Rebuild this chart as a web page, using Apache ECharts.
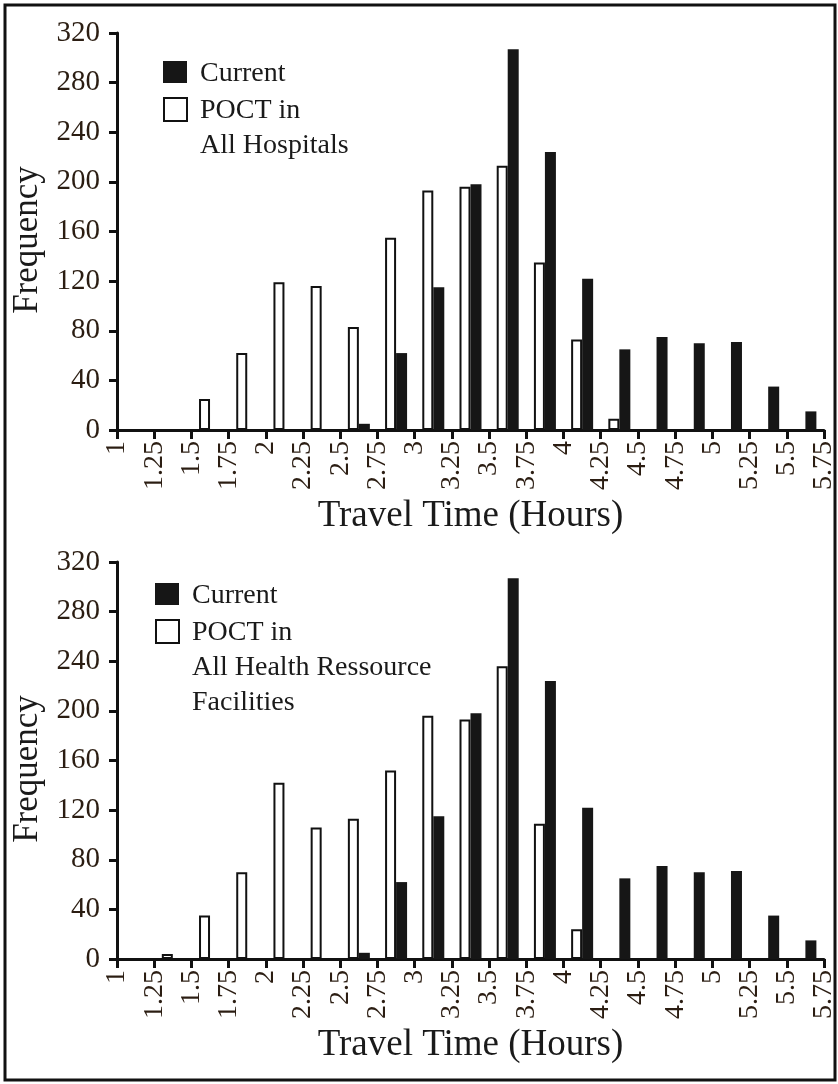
<!DOCTYPE html>
<html>
<head>
<meta charset="utf-8">
<script src="https://cdn.jsdelivr.net/npm/echarts@6/dist/echarts.min.js"></script>
<style>
html,body{margin:0;padding:0;background:#fff;}
#chart{width:838px;height:1084px;}
</style>
</head>
<body>
<div id="chart"></div>
<script>
// Bin centres (hours) for the 0.25-hour bins from 1 to 5.75
const binCenters = [1.125,1.375,1.625,1.875,2.125,2.375,2.625,2.875,3.125,3.375,3.625,3.875,4.125,4.375,4.625,4.875,5.125,5.375,5.625];
// Current travel time (same in both panels)
const currentFreq = [0,0,0,0,0,0,5,62,115,198,307,224,122,65,75,70,71,35,15];
// POCT in all hospitals (top panel)
const poctHospitals = [0,0,25,62,119,116,83,155,193,196,213,135,73,9,0,0,0,0,0];
// POCT in all health resource facilities (bottom panel)
const poctFacilities = [0,4,35,70,142,106,113,152,196,193,236,109,24,0,0,0,0,0,0];

const xMin = 1, xMax = 5.75, xStep = 0.25;
const yMin = 0, yMax = 320, yStep = 40;

const serif = '"Liberation Serif","Times New Roman",serif';
const labelColor = '#2b1d12';

function pairs(vals){
  const out = [];
  vals.forEach((v,i)=>{ if(v>0) out.push([binCenters[i], v]); });
  return out;
}

function xAxisCfg(gi){
  return {
    gridIndex: gi, type:'value', min:xMin, max:xMax, interval:xStep,
    name:'Travel Time (Hours)', nameLocation:'middle', nameGap:68,
    nameTextStyle:{fontFamily:serif, fontSize:37, color:'#1a1a1a'},
    axisLine:{show:true, onZero:false, lineStyle:{color:'#111', width:3}},
    axisTick:{show:true, length:9, lineStyle:{color:'#111', width:3}},
    axisLabel:{rotate:90, margin:11, fontFamily:serif, fontSize:28, color:labelColor, showMinLabel:true, showMaxLabel:true},
    splitLine:{show:false}
  };
}
function yAxisCfg(gi){
  return {
    gridIndex: gi, type:'value', min:yMin, max:yMax, interval:yStep,
    name:'Frequency', nameLocation:'middle', nameGap:71, nameRotate:90,
    nameTextStyle:{fontFamily:serif, fontSize:35, color:'#1a1a1a', padding:[0,17,0,0]},
    axisLine:{show:true, lineStyle:{color:'#111', width:3}},
    axisTick:{show:true, length:8, lineStyle:{color:'#111', width:3}},
    axisLabel:{margin:17, fontFamily:serif, fontSize:29, color:labelColor},
    splitLine:{show:false}
  };
}
const whiteStyle = {color:'#ffffff', borderColor:'#111', borderWidth:2};
const blackStyle = {color:'#161616', borderColor:'#161616', borderWidth:0};

function legend(x, y, lines){
  const els = [];
  els.push({type:'rect', shape:{x:x, y:y, width:24, height:22}, style:{fill:'#161616'}});
  els.push({type:'text', x:x+37, y:y+13, style:{text:'Current', font:'28px '+serif, fill:'#1a1a1a', verticalAlign:'middle', textVerticalAlign:'middle'}});
  els.push({type:'rect', shape:{x:x+1, y:y+37, width:23, height:23}, style:{fill:'#fff', stroke:'#111', lineWidth:2}});
  lines.forEach((t,i)=>{
    els.push({type:'text', x:x+37, y:y+50+i*35, style:{text:t, font:'28px '+serif, fill:'#1a1a1a', verticalAlign:'middle', textVerticalAlign:'middle'}});
  });
  return els;
}

const chart = echarts.init(document.getElementById('chart'), null, {renderer:'canvas'});
chart.setOption({
  backgroundColor:'#ffffff',
  animation:false,
  grid:[
    {left:117, top:33, width:714, height:397},
    {left:117, top:562, width:714, height:397}
  ],
  xAxis:[xAxisCfg(0), xAxisCfg(1)],
  yAxis:[yAxisCfg(0), yAxisCfg(1)],
  series:[
    {name:'POCT in All Hospitals', type:'bar', xAxisIndex:0, yAxisIndex:0, barWidth:11, barGap:'0%', itemStyle:whiteStyle, data:pairs(poctHospitals)},
    {name:'Current', type:'bar', xAxisIndex:0, yAxisIndex:0, barWidth:11, barGap:'0%', itemStyle:blackStyle, data:pairs(currentFreq)},
    {name:'POCT in All Health Ressource Facilities', type:'bar', xAxisIndex:1, yAxisIndex:1, barWidth:11, barGap:'0%', itemStyle:whiteStyle, data:pairs(poctFacilities)},
    {name:'Current ', type:'bar', xAxisIndex:1, yAxisIndex:1, barWidth:11, barGap:'0%', itemStyle:blackStyle, data:pairs(currentFreq)}
  ],
  graphic:[
    {type:'rect', shape:{x:5, y:5, width:830, height:1075}, style:{fill:'none', stroke:'#111', lineWidth:3}, z:100},
    ...legend(163, 61, ['POCT in','All Hospitals']),
    ...legend(155, 583, ['POCT in','All Health Ressource','Facilities'])
  ]
});
</script>
</body>
</html>
